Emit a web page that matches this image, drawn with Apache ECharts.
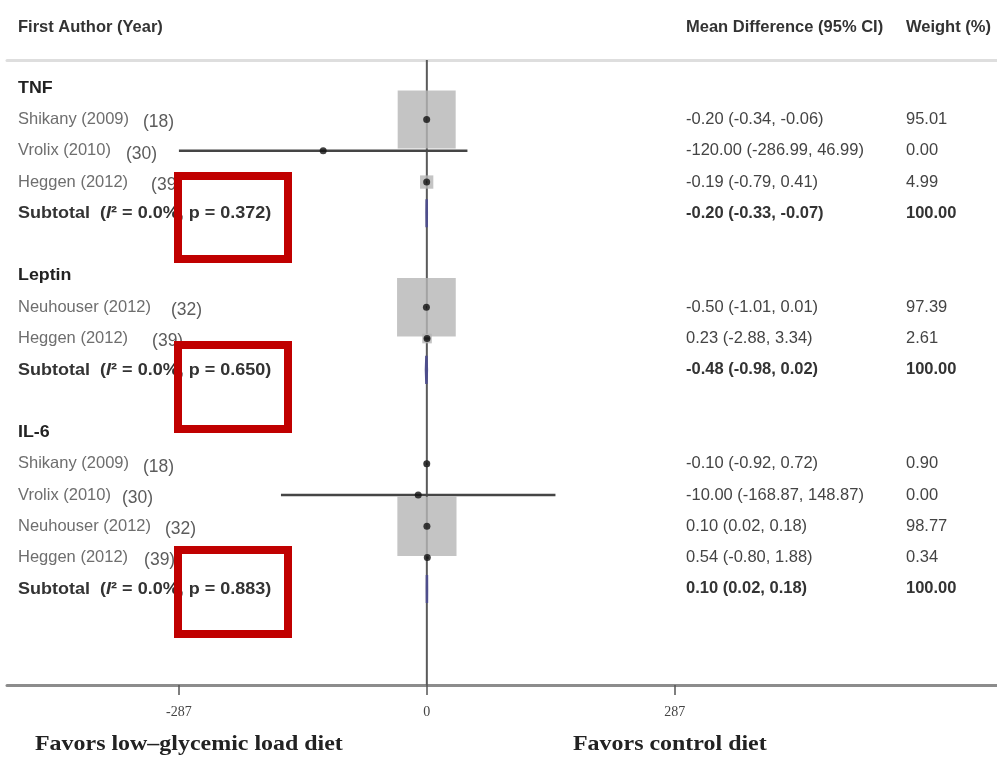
<!DOCTYPE html>
<html>
<head>
<meta charset="utf-8">
<script src="https://cdn.jsdelivr.net/npm/echarts@6/dist/echarts.min.js"></script>
<style>html,body{margin:0;padding:0;background:#fff}#c{width:997px;height:757px}</style>
</head>
<body>
<div id="c"></div>
<script>
// ---------- data ----------
const groupNames = ['TNF', 'Leptin', 'IL-6'];
const studyNames = ['Shikany (2009)', 'Vrolix (2010)', 'Heggen (2012)', 'Neuhouser (2012)', 'Heggen (2012)', 'Shikany (2009)', 'Vrolix (2010)', 'Neuhouser (2012)', 'Heggen (2012)'];
const studyRefs = ['(18)', '(30)', '(39)', '(32)', '(39)', '(18)', '(30)', '(32)', '(39)'];
const studyGroup = [0, 0, 0, 1, 1, 2, 2, 2, 2];
const studyEst = [-0.20, -120.00, -0.19, -0.50, 0.23, -0.10, -10.00, 0.10, 0.54];
const studyLo = [-0.34, -286.99, -0.79, -1.01, -2.88, -0.92, -168.87, 0.02, -0.80];
const studyHi = [-0.06, 46.99, 0.41, 0.01, 3.34, 0.72, 148.87, 0.18, 1.88];
const studyWeight = [95.01, 0.00, 4.99, 97.39, 2.61, 0.90, 0.00, 98.77, 0.34];
const subtotalEst = [-0.20, -0.48, 0.10];
const subtotalLo = [-0.33, -0.98, 0.02];
const subtotalHi = [-0.07, 0.02, 0.18];
const subtotalI2 = ['0.0%', '0.0%', '0.0%'];
const subtotalP = ['0.372', '0.650', '0.883'];
const xTicks = [-287, 0, 287];
const headers = ['First Author (Year)', 'Mean Difference (95% CI)', 'Weight (%)'];
const favorsLeft = 'Favors low\u2013glycemic load diet';
const favorsRight = 'Favors control diet';

// ---------- layout (pixels, not data) ----------
const refGap = [14, 15, 23, 20, 24, 14, 11, 14, 16];

// ---------- build rows ----------
const fmt = v => v.toFixed(2);
const rows = [];
let r = 0;
groupNames.forEach((g, gi) => {
  rows.push({row: r++, kind: 'group', label: g});
  studyNames.forEach((s, si) => {
    if (studyGroup[si] !== gi) return;
    rows.push({row: r++, kind: 'study', label: s, ref: studyRefs[si], gap: refGap[si],
      est: studyEst[si], lo: studyLo[si], hi: studyHi[si], w: studyWeight[si]});
  });
  rows.push({row: r++, kind: 'sub', i2: subtotalI2[gi], p: subtotalP[gi],
    est: subtotalEst[gi], lo: subtotalLo[gi], hi: subtotalHi[gi], w: 100});
  r++; // blank row
});
const studyRows = rows.filter(d => d.kind === 'study');
const subRows = rows.filter(d => d.kind === 'sub');

const FONT = '"Liberation Sans", Arial, sans-serif';
const SERIF = '"Liberation Serif", "Times New Roman", serif';
const yMin = -0.9, yMax = 19.07;
const xMin = -486, xMax = 660;
const FS = 16.5;

const chart = echarts.init(document.getElementById('c'), null, {renderer: 'canvas'});

function txt(x, y, text, opts) {
  return {type: 'text', x: x, y: y, scaleX: opts.scaleX || 1,
    style: Object.assign({x: 0, y: 0, text: text, fontFamily: FONT, fontSize: FS, verticalAlign: 'middle', fill: '#444'}, opts.style || {})};
}

const option = {
  animation: false,
  backgroundColor: '#fff',
  grid: {left: 7, right: 0, top: 60, bottom: 72},
  xAxis: [{
    type: 'value', min: xMin, max: xMax, position: 'bottom',
    splitLine: {show: false},
    axisLine: {show: true, onZero: false, lineStyle: {color: '#8c8c8c', width: 3}},
    axisTick: {show: true, customValues: xTicks, length: 10, lineStyle: {color: '#555', width: 1.5}},
    axisLabel: {show: true, customValues: xTicks, margin: 20, color: '#444', fontFamily: SERIF, fontSize: 14},
  }, {
    type: 'value', min: xMin, max: xMax, position: 'top',
    splitLine: {show: false},
    axisLine: {show: true, onZero: false, lineStyle: {color: '#dedede', width: 3}},
    axisTick: {show: false}, axisLabel: {show: false}
  }],
  yAxis: {type: 'value', inverse: true, min: yMin, max: yMax, show: false},
  series: [
    { // zero line
      type: 'line', z: 1, silent: true, symbol: 'none',
      data: [[0, yMin], [0, yMax]],
      lineStyle: {color: '#5a5a5a', width: 2}
    },
    { // weight boxes
      type: 'scatter', z: 2, silent: true, symbol: 'rect',
      data: studyRows.map(d => [d.est, d.row, d.w]),
      symbolSize: v => v[2] > 0 ? 5.95 * Math.sqrt(v[2]) : 0,
      itemStyle: {color: '#b5b5b5'}
    },
    { // CI lines
      type: 'custom', z: 3, silent: true,
      data: studyRows.map(d => [d.lo, d.row, d.hi]),
      encode: {x: [0, 2], y: 1},
      renderItem: (params, api) => {
        const a = api.coord([api.value(0), api.value(1)]);
        const b = api.coord([api.value(2), api.value(1)]);
        return {type: 'line', shape: {x1: a[0], y1: a[1], x2: b[0], y2: b[1]},
          style: {stroke: '#454545', lineWidth: 2.5}};
      }
    },
    { // point estimates
      type: 'scatter', z: 4, silent: true, symbol: 'circle', symbolSize: 7,
      data: studyRows.map(d => [d.est, d.row]),
      itemStyle: {color: '#111'}
    },
    { // subtotal diamonds
      type: 'custom', z: 5, silent: true,
      data: subRows.map(d => [d.est, d.row, d.lo, d.hi]),
      encode: {x: [0, 2, 3], y: 1},
      renderItem: (params, api) => {
        const c = api.coord([api.value(0), api.value(1)]);
        const l = api.coord([api.value(2), api.value(1)]);
        const rr = api.coord([api.value(3), api.value(1)]);
        const h = 14;
        return {type: 'polygon',
          shape: {points: [[l[0], c[1]], [c[0], c[1] - h], [rr[0], c[1]], [c[0], c[1] + h]]},
          style: {fill: '#4e4e8c', stroke: '#4e4e8c', lineWidth: 2.5}};
      }
    },
    { // text columns
      type: 'custom', z: 6, silent: true,
      data: rows.map((d, i) => [0, d.row, i]),
      encode: {x: 0, y: 1},
      renderItem: (params, api) => {
        const d = rows[api.value(2)];
        const y = api.coord([0, d.row])[1];
        const kids = [];
        if (d.kind === 'group') {
          kids.push(txt(18, y, d.label, {scaleX: 1.08, style: {fontWeight: 'bold', fontSize: 16.5, fill: '#222'}}));
        } else if (d.kind === 'study') {
          const nameW = echarts.format.getTextRect ? 0 : 0;
          const nameEl = txt(18, y, d.label, {style: {fill: '#6e6e6e'}});
          kids.push(nameEl);
          // measure name width to place the reference number after a gap
          const w = measure(d.label, FS + 'px ' + FONT);
          kids.push(txt(18 + w + d.gap, y + 3, d.ref, {style: {fontSize: 17.5, fill: '#5c5c5c'}}));
          kids.push(txt(686, y, fmt(d.est) + ' (' + fmt(d.lo) + ', ' + fmt(d.hi) + ')', {}));
          kids.push(txt(906, y, fmt(d.w), {}));
        } else {
          kids.push({type: 'text', x: 18, y: y, scaleX: 1.06, style: {x: 0, y: 0,
            text: '{b|Subtotal  (}{i|I}{b|\u00b2 = ' + d.i2 + ', p = ' + d.p + ')}',
            verticalAlign: 'middle',
            rich: {b: {fontFamily: FONT, fontWeight: 'bold', fontSize: 17, fill: '#333'},
                   i: {fontFamily: FONT, fontWeight: 'bold', fontStyle: 'italic', fontSize: 17, fill: '#333'}}}});
          kids.push(txt(686, y, fmt(d.est) + ' (' + fmt(d.lo) + ', ' + fmt(d.hi) + ')', {style: {fontWeight: 'bold', fill: '#333'}}));
          kids.push(txt(906, y, fmt(d.w), {style: {fontWeight: 'bold', fill: '#333'}}));
        }
        return {type: 'group', children: kids};
      }
    }
  ],
  graphic: [
    {type: 'text', x: 18, y: 27, scaleX: 1.0, style: {text: headers[0], font: 'bold 16.5px ' + FONT, fill: '#333', verticalAlign: 'middle'}},
    {type: 'text', x: 686, y: 27, scaleX: 1.0, style: {text: headers[1], font: 'bold 16.5px ' + FONT, fill: '#333', verticalAlign: 'middle'}},
    {type: 'text', x: 906, y: 27, scaleX: 1.0, style: {text: headers[2], font: 'bold 16.5px ' + FONT, fill: '#333', verticalAlign: 'middle'}},
    {type: 'text', x: 35, y: 745, scaleX: 1.14, style: {text: favorsLeft, font: 'bold 21px ' + SERIF, fill: '#222', verticalAlign: 'middle'}},
    {type: 'text', x: 573, y: 745, scaleX: 1.14, style: {text: favorsRight, font: 'bold 21px ' + SERIF, fill: '#222', verticalAlign: 'middle'}},
    {type: 'rect', z: 100, shape: {x: 178, y: 176, width: 110, height: 83}, style: {fill: 'none', stroke: '#c00000', lineWidth: 8}},
    {type: 'rect', z: 100, shape: {x: 178, y: 345, width: 110, height: 84}, style: {fill: 'none', stroke: '#c00000', lineWidth: 8}},
    {type: 'rect', z: 100, shape: {x: 178, y: 550, width: 110, height: 84}, style: {fill: 'none', stroke: '#c00000', lineWidth: 8}}
  ]
};

const _cv = document.createElement('canvas').getContext('2d');
function measure(text, font) { _cv.font = font; return _cv.measureText(text).width; }

chart.setOption(option);
</script>
</body>
</html>
